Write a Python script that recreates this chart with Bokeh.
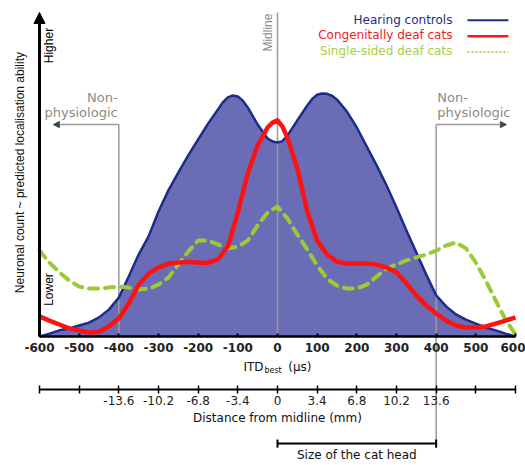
import math
from bokeh.plotting import figure
from bokeh.models import Range1d, LinearAxis, FixedTicker, Arrow, NormalHead
from bokeh.core.properties import value
from bokeh.embed import file_html
from bokeh.resources import INLINE

# ---------------- data ----------------
hearing_itd = [-600, -575, -550, -525, -500, -475, -450, -425, -400, -375, -350, -325, -300,
               -275, -250, -225, -200, -175, -150, -137.5, -125, -112.5, -100, -87.5, -75,
               -50, -25, -12.5, 0, 12.5, 25, 50, 75, 87.5, 100, 112.5, 125, 137.5, 150,
               175, 200, 225, 250, 275, 300, 325, 350, 375, 400, 425, 450, 475, 500,
               525, 550, 575, 600]
hearing_controls = [0.0, 0.9, 1.9, 2.5, 3.4, 4.3, 5.9, 8.3, 12.0, 18.5, 25.3, 30.9, 38.6,
                    45.1, 50.6, 55.9, 60.8, 65.7, 70.1, 72.3, 73.8, 74.4, 74.1, 72.8, 70.7,
                    65.4, 61.1, 60.2, 59.9, 60.3, 62.0, 66.7, 71.3, 73.3, 74.6, 75.0, 74.9, 74.3, 73.1,
                    69.4, 64.5, 58.6, 52.8, 46.6, 39.8, 32.7, 25.9, 19.1, 12.7, 9.3, 6.8, 5.2, 4.0,
                    2.8, 1.9, 0.9, 0.0]

congenital_itd = [-600, -575, -550, -525, -500, -475, -450, -425, -400, -375, -350, -325, -300,
                  -275, -250, -225, -200, -175, -150, -125, -100, -75, -50, -25, -12.5, 0, 12.5,
                  25, 50, 75, 100, 125, 150, 175, 200, 225, 250, 275, 300,
                  325, 350, 375, 400, 425, 450, 475, 500, 525, 550, 575, 600]
congenitally_deaf = [6.2, 4.9, 3.7, 2.5, 1.9, 1.2, 1.5, 3.1, 5.6, 10.2, 16.0, 19.4, 21.3,
                     22.5, 22.8, 23.1, 22.8, 22.8, 23.8, 27.8, 38.3, 50.3, 59.0, 64.5, 66.0, 66.7, 64.8,
                     61.4, 51.9, 38.6, 29.6, 25.3, 23.1, 22.5, 22.5, 22.5, 22.2, 21.3, 19.8,
                     16.4, 12.7, 9.6, 7.1, 4.9, 3.4, 2.8, 2.8, 3.1, 4.0, 4.9, 5.9]

single_sided_itd = [-600, -575, -550, -525, -500, -475, -450, -425, -400, -375, -350, -325, -300,
                    -275, -250, -225, -200, -175, -150, -125, -100, -75, -50, -25, 0,
                    25, 50, 75, 100, 125, 150, 175, 200, 225, 250, 275, 300,
                    325, 350, 375, 400, 425, 450, 475, 500, 525, 550, 575, 600]
single_sided_deaf = [26.5, 22.8, 19.8, 17.3, 15.4, 14.8, 14.8, 15.1, 15.4, 15.1, 14.5, 14.8, 16.0,
                     18.2, 22.2, 26.2, 29.6, 29.6, 28.4, 27.2, 27.8, 29.6, 34.3, 38.3, 40.1,
                     36.4, 31.5, 26.9, 21.9, 17.9, 15.7, 14.8, 14.8, 16.0, 18.5, 21.0, 22.2,
                     23.5, 24.4, 25.3, 26.5, 28.1, 29.0, 27.2, 22.8, 17.3, 11.1, 5.2, 0.6]

series_names = ["Hearing controls", "Congenitally deaf cats", "Single-sided deaf cats"]

itd_ticks = [-600, -500, -400, -300, -200, -100, 0, 100, 200, 300, 400, 500, 600]
itd_tick_labels = ["-600", "-500", "-400", "-300", "-200", "-100", "0",
                   "100", "200", "300", "400", "500", "600"]
mm_tick_labels = ["", "", "-13.6", "-10.2", "-6.8", "-3.4", "0",
                  "3.4", "6.8", "10.2", "13.6", "", ""]

physiologic_limit_us = 400
cat_head_us = [0, 400]

# ---------------- styling ----------------
FILL = "#6a6db5"
NAVY = "#1c2c8c"
RED = "#ff1111"
GREEN = "#9acb34"
GRAY = "#9a9a9a"
FONT = value("DejaVu Sans")
SANS = value("Liberation Sans")

p = figure(width=525, height=465, output_backend="svg", toolbar_location=None,
           x_range=Range1d(-698.3, 625.2), y_range=Range1d(-39.81, 103.70),
           x_axis_location=None, y_axis_location=None, min_border=0,
           outline_line_color=None, background_fill_color="white",
           border_fill_color="white")
p.grid.visible = False

# filled area for hearing controls
p.varea(x=hearing_itd, y1=0, y2=hearing_controls, fill_color=FILL, fill_alpha=1.0)

# gray reference lines
p.segment(x0=[0], y0=[0], x1=[0], y1=[100], line_color=GRAY, line_width=1.5)
p.segment(x0=[-physiologic_limit_us], y0=[0], x1=[-physiologic_limit_us], y1=[65.4],
          line_color=GRAY, line_width=1.5)
p.segment(x0=[physiologic_limit_us], y0=[65.4], x1=[physiologic_limit_us], y1=[-34.3],
          line_color=GRAY, line_width=1.5)

# curves
p.line(hearing_itd, hearing_controls, line_color=NAVY, line_width=2.5, line_join="round")
p.line(single_sided_itd, single_sided_deaf, line_color=GREEN, line_width=4,
       line_dash="9 7", line_cap="round")
p.line(congenital_itd, congenitally_deaf, line_color=RED, line_width=4.5, line_join="round")

# y "axis" arrow
p.add_layout(Arrow(end=NormalHead(size=11, fill_color="black", line_color="black"),
                   x_start=-600, y_start=0, x_end=-600, y_end=100,
                   line_color="black", line_width=3))

# Non-physiologic arrows
for xs, xe in [(-physiologic_limit_us, -565), (physiologic_limit_us, 577)]:
    p.add_layout(Arrow(end=NormalHead(size=6, fill_color="#444", line_color="#444"),
                       x_start=xs, y_start=65.4, x_end=xe, y_end=65.4,
                       line_color=GRAY, line_width=1.5))

p.text(x=[-403, -403], y=[73.8, 69.1], text=["Non-", "physiologic"],
       text_font=FONT, text_font_size="13px", text_color="#8a8a8a",
       text_align="right", text_baseline="middle")
p.text(x=[403, 403], y=[73.8, 69.1], text=["Non-", "physiologic"],
       text_font=FONT, text_font_size="13px", text_color="#8a8a8a",
       text_align="left", text_baseline="middle")

# Midline label
p.text(x=[-22.7], y=[93.8], text=["Midline"], angle=math.pi / 2,
       text_font=SANS, text_font_size="12px", text_color="#8a8a8a",
       text_align="center", text_baseline="middle")

# y labels
p.text(x=[-577, -577], y=[89.8, 14.5], text=["Higher", "Lower"], angle=math.pi / 2,
       text_font=SANS, text_font_size="12px", text_color="black",
       text_align="center", text_baseline="middle")
p.text(x=[-650], y=[50.6], text=["Neuronal count ~ predicted localisation ability"],
       angle=math.pi / 2, text_font=SANS, text_font_size="12px", text_color="#111",
       text_align="center", text_baseline="middle")

# legend (manual, text left of samples)
p.text(x=[441, 441, 441], y=[97.8, 92.9, 88.0], text=series_names,
       text_color=[NAVY, "#ee1c24", "#a8d040"], text_font=FONT, text_font_size="12px",
       text_align="right", text_baseline="middle")
p.segment(x0=[479], y0=[97.6], x1=[582], y1=[97.6], line_color=NAVY, line_width=2)
p.segment(x0=[479], y0=[92.7], x1=[582], y1=[92.7], line_color=RED, line_width=2.5)
p.segment(x0=[479], y0=[87.8], x1=[582], y1=[87.8], line_color=GREEN, line_width=1.5,
          line_dash="2 2")

# main ITD axis
ax = LinearAxis(fixed_location=0, ticker=FixedTicker(ticks=itd_ticks),
                major_label_overrides=dict(zip(itd_ticks, itd_tick_labels)),
                bounds=(-600, 600), axis_line_width=2.5, axis_line_color="black",
                major_tick_in=3, major_tick_out=0, major_tick_line_width=2,
                minor_tick_line_color=None, major_label_standoff=6,
                major_label_text_font="DejaVu Sans", major_label_text_font_size="12px",
                major_label_text_font_style="bold", major_label_text_color="#222")
p.add_layout(ax, "below")

# ITD_best label
p.text(x=[-35], y=[-9.3], text=["ITD"], text_font=FONT, text_font_size="12px",
       text_color="#111", text_align="right", text_baseline="middle")
p.text(x=[-33], y=[-10.6], text=["best"], text_font=FONT, text_font_size="8px",
       text_color="#111", text_align="left", text_baseline="middle")
p.text(x=[27], y=[-9.3], text=["(µs)"], text_font=FONT, text_font_size="12px",
       text_color="#111", text_align="left", text_baseline="middle")

# distance-from-midline axis
mm_ax = LinearAxis(fixed_location=-16.36, ticker=FixedTicker(ticks=itd_ticks),
                   major_label_overrides=dict(zip(itd_ticks, mm_tick_labels)),
                   bounds=(-600, 600), axis_line_width=2, axis_line_color="black",
                   major_tick_in=4, major_tick_out=4, major_tick_line_width=1.5,
                   minor_tick_line_color=None, major_label_standoff=2,
                   major_label_text_font="DejaVu Sans", major_label_text_font_size="12px",
                   major_label_text_color="#222",
                   axis_label="Distance from midline (mm)", axis_label_standoff=3,
                   axis_label_text_font="DejaVu Sans", axis_label_text_font_size="12px",
                   axis_label_text_font_style="normal", axis_label_text_color="#111")
p.add_layout(mm_ax, "below")

# size of the cat head bracket
p.segment(x0=[cat_head_us[0]], y0=[-33.0], x1=[cat_head_us[1]], y1=[-33.0],
          line_color="black", line_width=2)
p.segment(x0=cat_head_us, y0=[-31.8, -31.8], x1=cat_head_us, y1=[-34.3, -34.3],
          line_color="black", line_width=2)
p.text(x=[200], y=[-36.6], text=["Size of the cat head"], text_font=FONT,
       text_font_size="12px", text_color="#111", text_align="center",
       text_baseline="middle")

open("out.html", "w").write(file_html(p, INLINE))
